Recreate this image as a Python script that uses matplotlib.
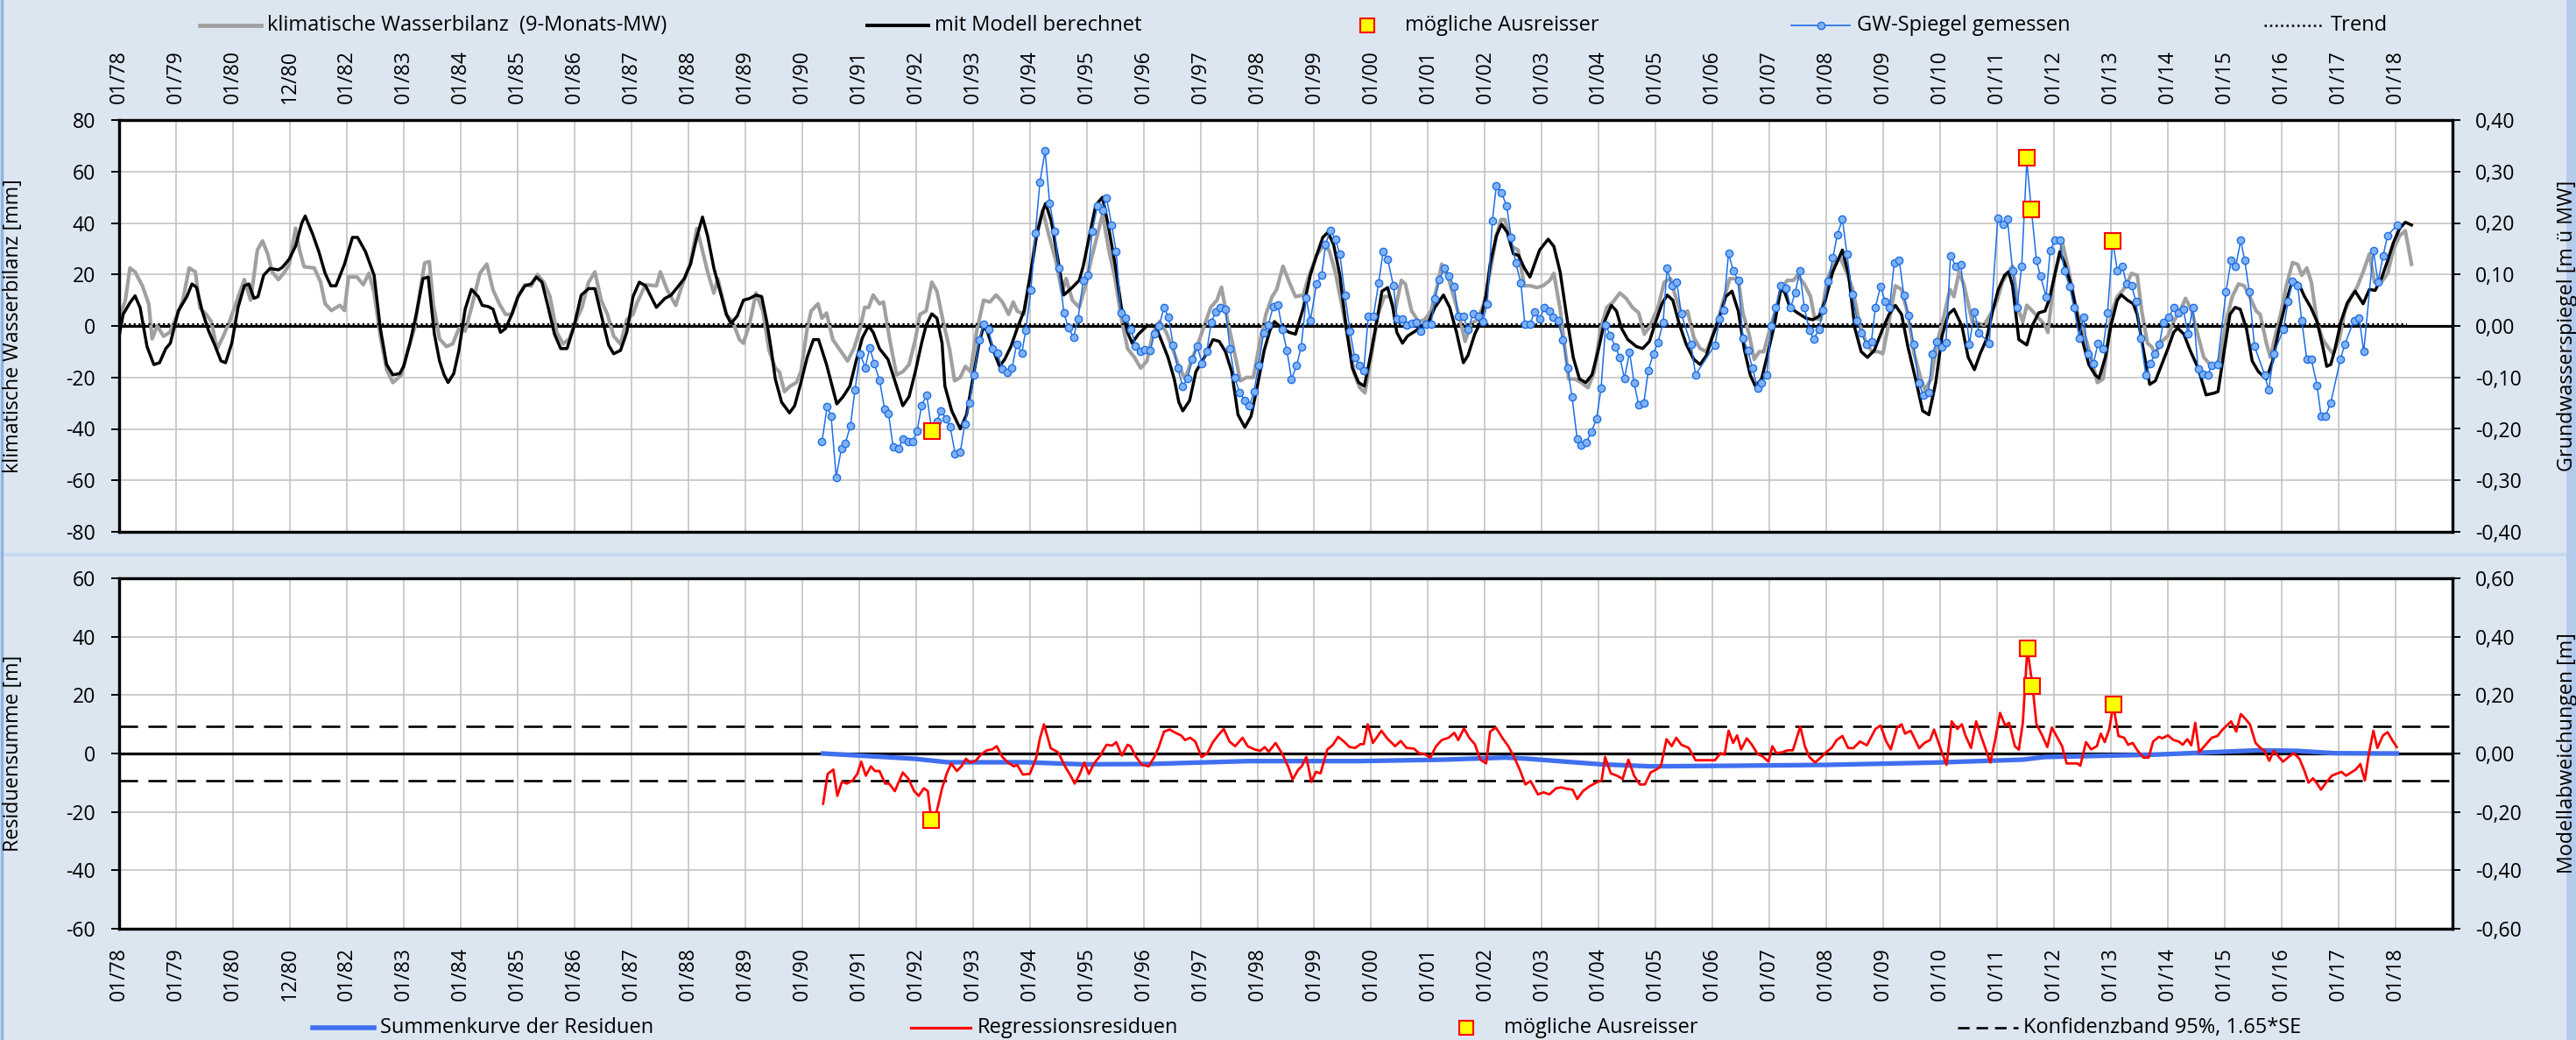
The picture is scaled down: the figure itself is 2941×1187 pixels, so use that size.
import matplotlib
matplotlib.use('Agg')
import matplotlib.pyplot as plt
from matplotlib.lines import Line2D
from matplotlib.patches import Rectangle
from matplotlib.ticker import FuncFormatter, MultipleLocator

plt.rcParams['font.family'] = ['Open Sans', 'DejaVu Sans']
plt.rcParams['axes.unicode_minus'] = False

# --- x axis ticks -------------------------------------------------------
tick_years = list(range(1978, 2019))
tick_labels = ['01/78', '01/79', '01/80', '12/80', '01/82', '01/83', '01/84', '01/85',
               '01/86', '01/87', '01/88', '01/89', '01/90', '01/91', '01/92', '01/93',
               '01/94', '01/95', '01/96', '01/97', '01/98', '01/99', '01/00', '01/01',
               '01/02', '01/03', '01/04', '01/05', '01/06', '01/07', '01/08', '01/09',
               '01/10', '01/11', '01/12', '01/13', '01/14', '01/15', '01/16', '01/17',
               '01/18']

# --- klimatische Wasserbilanz (9-Monats-MW) [mm] -------------------------
kwb_t = [1978.00, 1978.11, 1978.19, 1978.28, 1978.41, 1978.52, 1978.58, 1978.67, 1978.78, 1978.89,
         1978.97, 1979.12, 1979.23, 1979.34, 1979.42, 1979.53, 1979.62, 1979.72, 1979.83, 1979.94,
         1980.05, 1980.20, 1980.31, 1980.43, 1980.52, 1980.61, 1980.69, 1980.80, 1980.91, 1980.99,
         1981.10, 1981.17, 1981.25, 1981.43, 1981.54, 1981.62, 1981.73, 1981.88, 1981.96, 1982.03,
         1982.18, 1982.29, 1982.39, 1982.48, 1982.59, 1982.70, 1982.81, 1982.96, 1983.07, 1983.19,
         1983.30, 1983.37, 1983.45, 1983.52, 1983.63, 1983.75, 1983.86, 1983.97, 1984.08, 1984.19,
         1984.34, 1984.46, 1984.57, 1984.68, 1984.79, 1984.90, 1985.01, 1985.13, 1985.24, 1985.35,
         1985.46, 1985.57, 1985.69, 1985.80, 1985.91, 1986.02, 1986.13, 1986.25, 1986.36, 1986.47,
         1986.58, 1986.69, 1986.81, 1986.92, 1987.03, 1987.10, 1987.25, 1987.44, 1987.51, 1987.63,
         1987.78, 1987.89, 1988.04, 1988.15, 1988.22, 1988.34, 1988.45, 1988.52, 1988.67, 1988.78,
         1988.90, 1988.97, 1989.08, 1989.19, 1989.31, 1989.42, 1989.53, 1989.60, 1989.69, 1989.79,
         1989.90, 1989.98, 1990.09, 1990.16, 1990.28, 1990.35, 1990.43, 1990.54, 1990.65, 1990.80,
         1990.91, 1991.02, 1991.10, 1991.17, 1991.25, 1991.36, 1991.43, 1991.54, 1991.66, 1991.77,
         1991.88, 1991.99, 1992.07, 1992.18, 1992.28, 1992.37, 1992.48, 1992.59, 1992.68, 1992.78,
         1992.87, 1992.96, 1993.07, 1993.19, 1993.30, 1993.41, 1993.52, 1993.63, 1993.71, 1993.78,
         1993.90, 1994.01, 1994.12, 1994.23, 1994.34, 1994.46, 1994.57, 1994.64, 1994.75, 1994.87,
         1994.98, 1995.09, 1995.20, 1995.28, 1995.39, 1995.50, 1995.61, 1995.72, 1995.84, 1995.95,
         1996.06, 1996.17, 1996.28, 1996.40, 1996.51, 1996.62, 1996.73, 1996.84, 1996.96, 1997.07,
         1997.18, 1997.29, 1997.37, 1997.48, 1997.59, 1997.70, 1997.81, 1997.93, 1998.04, 1998.15,
         1998.26, 1998.34, 1998.45, 1998.56, 1998.67, 1998.81, 1998.89, 1999.04, 1999.15, 1999.26,
         1999.37, 1999.48, 1999.60, 1999.71, 1999.80, 1999.89, 2000.01, 2000.12, 2000.23, 2000.33,
         2000.42, 2000.53, 2000.60, 2000.71, 2000.83, 2000.94, 2001.05, 2001.16, 2001.24, 2001.35,
         2001.46, 2001.57, 2001.65, 2001.76, 2001.87, 2001.98, 2002.09, 2002.20, 2002.28, 2002.35,
         2002.47, 2002.58, 2002.69, 2002.80, 2002.91, 2003.02, 2003.14, 2003.21, 2003.32, 2003.47,
         2003.58, 2003.69, 2003.81, 2003.92, 2004.03, 2004.14, 2004.25, 2004.37, 2004.48, 2004.59,
         2004.70, 2004.80, 2004.89, 2005.04, 2005.15, 2005.26, 2005.33, 2005.45, 2005.56, 2005.67,
         2005.78, 2005.89, 2006.00, 2006.12, 2006.19, 2006.30, 2006.45, 2006.53, 2006.64, 2006.73,
         2006.82, 2006.90, 2007.01, 2007.12, 2007.20, 2007.31, 2007.42, 2007.49, 2007.61, 2007.72,
         2007.79, 2007.90, 2008.01, 2008.11, 2008.24, 2008.35, 2008.46, 2008.58, 2008.69, 2008.80,
         2008.91, 2008.99, 2009.10, 2009.21, 2009.32, 2009.43, 2009.54, 2009.66, 2009.73, 2009.84,
         2009.95, 2010.07, 2010.17, 2010.24, 2010.33, 2010.42, 2010.56, 2010.67, 2010.77, 2010.88,
         2010.99, 2011.09, 2011.20, 2011.27, 2011.38, 2011.45, 2011.52, 2011.62, 2011.73, 2011.84,
         2011.89, 2012.01, 2012.15, 2012.26, 2012.37, 2012.47, 2012.58, 2012.65, 2012.76, 2012.86,
         2012.93, 2013.00, 2013.11, 2013.22, 2013.29, 2013.36, 2013.46, 2013.54, 2013.64, 2013.71,
         2013.78, 2013.89, 2014.00, 2014.10, 2014.21, 2014.31, 2014.42, 2014.53, 2014.63, 2014.74,
         2014.85, 2014.92, 2015.02, 2015.13, 2015.24, 2015.34, 2015.45, 2015.55, 2015.62, 2015.73,
         2015.80, 2015.87, 2015.98, 2016.08, 2016.19, 2016.28, 2016.35, 2016.44, 2016.52, 2016.62,
         2016.72, 2016.83, 2016.90, 2017.01, 2017.11, 2017.22, 2017.32, 2017.43, 2017.54, 2017.63,
         2017.75, 2017.86, 2017.96, 2018.07, 2018.17, 2018.28]
kwb_v = [3, 10, 22.5, 21, 15.5, 8.6, -5, 0, -4, -2.5,
         1.7, 10, 22.5, 21, 7, 4.5, 1.7, -9, -4, 1.7,
         8.6, 18, 10, 29.5, 33, 28, 21, 18, 21, 24,
         38, 29.5, 23, 22.5, 17, 8.6, 6, 8, 6, 19,
         19, 16, 20.5, 13, -4, -17, -22, -19, -9.5, -1,
         15.5, 24.5, 25, 8.6, -5, -8, -7, -1, -2, 7,
         20.5, 24, 14, 8.6, 4.5, 4.5, 11.5, 16, 15.5, 20,
         17, 11.5, -2.5, -7, -5, 1.7, 7, 17, 21, 10,
         4.5, -4, -7, 2.4, 4.5, 9, 16, 15.6, 21, 14,
         8, 15.6, 24.6, 37.8, 32, 21, 12.8, 18.4, 4.5, 1.7,
         -5.3, -6.7, 1, 12.8, 5.8, -9.5, -16.4, -17.8, -25.5, -23.4,
         -22, -17.8, -1, 5.8, 8.6, 3, 5, -5.3, -8.8, -13.6,
         -8.8, -1, 7.2, 7.2, 12, 8.6, 9.3, -5.3, -19, -17.8,
         -15, -5.3, 4.5, 5.8, 17, 13.5, 1.7, -8.8, -21.3, -20,
         -15.7, -17.8, -1.8, 10, 9.3, 12, 9.3, 4.5, 9.3, 5.8,
         4.5, 19, 36.4, 44.8, 35, 25.3, 12.8, 18.4, 10, 7.2,
         15.6, 26.7, 36.4, 43.4, 29.5, 18.4, 3, -8.8, -12.2, -16.4,
         -13.6, -2.5, 1.7, -2.5, -8.8, -15.7, -20.6, -13.6, -6.7, 0.3,
         7.2, 10, 15, 1.7, -9.5, -21.3, -20, -20, -6.7, 4.5,
         11.4, 14.2, 23.2, 17, 11.4, 12, 18.4, 27.4, 30.9, 29.5,
         21, 8.6, -5.3, -19, -24, -26, -10.8, 4.5, 11.4, 11.4,
         5.8, 17.7, 16.3, 5.8, 1.7, 2.4, 5.8, 15.6, 24, 19,
         10.7, 1.7, -6, 1, 2.4, 8.6, 21, 35, 41.3, 41.3,
         30.9, 29.5, 15.6, 15.6, 14.9, 15.6, 17.7, 20.4, 6.5, -20.6,
         -20.6, -22, -24, -17.8, -1, 7.2, 9.3, 12.8, 10.7, 7.2,
         5.1, -3.2, -0.4, 7.2, 17, 18.4, 12.8, 4.5, 5.8, -4.6,
         -8.8, -10, -3.9, 4.5, 10, 18.4, 18.4, 5.1, -3.2, -13,
         -10, -10, -1, 7.2, 14.2, 17.7, 17.7, 19.7, 16.3, 11.4,
         3, 2.4, 17.7, 23.2, 26.7, 21, 14.2, 1, -6, -10,
         -10, -10.8, 1.7, 15.6, 14.2, 4.5, -10.8, -20.6, -24.8, -20.6,
         -6, 4.5, 14.2, 11.4, 21, 15.6, 1.7, 1, 0.3, 4.5,
         9.3, 17, 21, 23.2, 5.8, 1.7, 8, 5.8, 3, 0.3,
         -2.5, 20, 32, 21, 8.6, 0.3, -6.7, -12.2, -22, -20.6,
         -9.5, 4.5, 11.4, 14.2, 17, 20.4, 19.7, 5.8, -6.7, -8,
         -10.8, -6, -3.9, 1.7, 5.8, 10.7, 5.8, -3.9, -12.2, -15,
         -15, -12.2, 1.7, 11.4, 16.3, 15.6, 10.7, 5.8, 4.5, -6.7,
         -12.2, -5.3, 4.5, 15.6, 24.6, 23.9, 19.7, 22.5, 17, 1.7,
         -5.3, -8.8, -10.8, -5.3, 5.8, 11.4, 14.9, 21, 28, 17,
         17, 20.4, 29.5, 35, 37, 24]

# --- mit Modell berechnet [mm] -------------------------------------------
mod_t = [1978.00, 1978.07, 1978.19, 1978.28, 1978.37, 1978.49, 1978.61, 1978.71, 1978.82, 1978.90,
         1979.04, 1979.19, 1979.28, 1979.36, 1979.46, 1979.57, 1979.68, 1979.79, 1979.87, 1979.98,
         1980.09, 1980.20, 1980.28, 1980.37, 1980.44, 1980.54, 1980.65, 1980.80, 1980.87, 1980.99,
         1981.10, 1981.21, 1981.27, 1981.40, 1981.51, 1981.62, 1981.72, 1981.81, 1981.96, 1982.10,
         1982.19, 1982.33, 1982.48, 1982.59, 1982.70, 1982.81, 1982.93, 1983.00, 1983.11, 1983.22,
         1983.34, 1983.43, 1983.54, 1983.63, 1983.71, 1983.78, 1983.88, 1983.97, 1984.08, 1984.19,
         1984.31, 1984.38, 1984.49, 1984.57, 1984.70, 1984.79, 1984.90, 1985.01, 1985.13, 1985.24,
         1985.33, 1985.43, 1985.54, 1985.65, 1985.76, 1985.87, 1985.99, 1986.12, 1986.25, 1986.36,
         1986.50, 1986.60, 1986.69, 1986.81, 1986.92, 1987.03, 1987.14, 1987.25, 1987.44, 1987.59,
         1987.70, 1987.81, 1987.93, 1988.04, 1988.15, 1988.25, 1988.34, 1988.45, 1988.56, 1988.67,
         1988.75, 1988.86, 1988.97, 1989.08, 1989.19, 1989.29, 1989.38, 1989.46, 1989.53, 1989.64,
         1989.78, 1989.87, 1989.98, 1990.09, 1990.20, 1990.29, 1990.43, 1990.61, 1990.72, 1990.84,
         1990.95, 1991.06, 1991.17, 1991.25, 1991.36, 1991.51, 1991.62, 1991.77, 1991.88, 1991.99,
         1992.10, 1992.18, 1992.28, 1992.37, 1992.46, 1992.51, 1992.63, 1992.78, 1992.89, 1993.00,
         1993.11, 1993.19, 1993.26, 1993.37, 1993.47, 1993.56, 1993.67, 1993.78, 1993.90, 1994.01,
         1994.12, 1994.23, 1994.28, 1994.38, 1994.49, 1994.60, 1994.75, 1994.87, 1994.94, 1995.05,
         1995.16, 1995.28, 1995.39, 1995.50, 1995.61, 1995.72, 1995.80, 1995.91, 1996.06, 1996.21,
         1996.32, 1996.43, 1996.54, 1996.62, 1996.69, 1996.81, 1996.92, 1997.07, 1997.22, 1997.33,
         1997.44, 1997.55, 1997.66, 1997.78, 1997.89, 1998.00, 1998.12, 1998.22, 1998.30, 1998.40,
         1998.56, 1998.67, 1998.81, 1998.93, 1999.04, 1999.15, 1999.24, 1999.34, 1999.45, 1999.56,
         1999.67, 1999.78, 1999.88, 1999.97, 2000.08, 2000.19, 2000.29, 2000.38, 2000.45, 2000.55,
         2000.64, 2000.79, 2000.90, 2001.01, 2001.12, 2001.27, 2001.38, 2001.50, 2001.62, 2001.70,
         2001.82, 2001.91, 2002.02, 2002.09, 2002.20, 2002.29, 2002.39, 2002.50, 2002.59, 2002.69,
         2002.79, 2002.87, 2002.96, 2003.11, 2003.21, 2003.32, 2003.43, 2003.55, 2003.66, 2003.77,
         2003.88, 2003.99, 2004.10, 2004.22, 2004.31, 2004.40, 2004.51, 2004.66, 2004.77, 2004.89,
         2005.00, 2005.11, 2005.20, 2005.30, 2005.41, 2005.54, 2005.67, 2005.78, 2005.89, 2006.00,
         2006.12, 2006.23, 2006.34, 2006.45, 2006.56, 2006.66, 2006.75, 2006.86, 2006.96, 2007.09,
         2007.20, 2007.27, 2007.36, 2007.49, 2007.64, 2007.76, 2007.87, 2007.98, 2008.11, 2008.28,
         2008.39, 2008.50, 2008.61, 2008.72, 2008.84, 2008.99, 2009.10, 2009.21, 2009.32, 2009.43,
         2009.58, 2009.69, 2009.80, 2009.92, 2010.03, 2010.14, 2010.24, 2010.38, 2010.49, 2010.60,
         2010.70, 2010.81, 2010.92, 2011.02, 2011.13, 2011.20, 2011.27, 2011.38, 2011.52, 2011.62,
         2011.73, 2011.84, 2011.92, 2012.01, 2012.10, 2012.19, 2012.30, 2012.40, 2012.51, 2012.61,
         2012.72, 2012.79, 2012.90, 2013.00, 2013.11, 2013.18, 2013.29, 2013.39, 2013.46, 2013.57,
         2013.68, 2013.78, 2013.89, 2014.00, 2014.10, 2014.17, 2014.28, 2014.39, 2014.53, 2014.67,
         2014.81, 2014.88, 2014.99, 2015.09, 2015.18, 2015.27, 2015.38, 2015.48, 2015.59, 2015.73,
         2015.84, 2015.94, 2016.05, 2016.16, 2016.23, 2016.30, 2016.40, 2016.51, 2016.62, 2016.72,
         2016.79, 2016.86, 2016.93, 2017.04, 2017.15, 2017.29, 2017.43, 2017.54, 2017.64, 2017.75,
         2017.86, 2017.96, 2018.07, 2018.17, 2018.28]
mod_v = [-4, 4.5, 9, 11.7, 7, -8, -15, -14.3, -8.8, -6.7,
         5.8, 11.4, 16.3, 15, 5.8, -1.8, -7.4, -13.6, -14.3, -6.7,
         7.2, 15.6, 16.3, 10.7, 11.4, 19.7, 22.3, 21.8, 22.8, 26,
         31, 40, 42.7, 35.7, 28.8, 20.4, 15.6, 15.6, 24, 34.4,
         34.4, 28.8, 19.7, -1, -15, -19, -18.5, -15.7, -6.7, 4.5,
         18.4, 19, -3.2, -13.6, -19, -22, -18.5, -9.5, 6.5, 14.2,
         11.4, 8, 7.5, 6.5, -2.5, -1, 4.5, 11.4, 15.6, 16.3,
         19, 17, 7.2, -3.2, -8.8, -8.8, -0.4, 12, 14.5, 14.5,
         1.7, -7.4, -10.8, -9.5, -2.5, 11.4, 17, 15.6, 7.2, 10.7,
         12, 15, 18.4, 24, 34.4, 42.3, 35, 22.5, 13.5, 4.5,
         1, 3.8, 10, 10.7, 12, 11.4, 1.7, -9.5, -20.6, -29.6,
         -33.8, -31, -22, -12.2, -5.3, -5.3, -15, -30.3, -27.5, -23.4,
         -13.6, -4.6, 0, -2.5, -8.8, -13, -20.6, -31, -27.5, -17.8,
         -6.7, 0.3, 4.7, 3, -6.7, -23.4, -33, -40, -34.5, -20.6,
         -6.7, 0, -2.5, -10, -15.7, -13, -8, -1, 5.8, 19.7,
         35, 44.8, 47.6, 40.6, 26.7, 12, 15, 17.7, 23.2, 35,
         46.9, 50, 37.8, 24, 7.2, -2.5, -6.7, -3.2, 0, 0,
         -6, -12.2, -20.6, -29.6, -33, -29, -17.8, -12.2, -5.3, -6,
         -10, -17.8, -34.5, -39.4, -35, -23.4, -9.5, -1.8, 1.7, -0.4,
         -2.5, -3.2, 7.2, 19.7, 27.4, 34.4, 36.4, 31.6, 19.7, -0.4,
         -16.4, -22, -23.4, -13.6, -0.4, 13.5, 14.9, 7.2, -2.5, -6.7,
         -3.9, -1.8, 0.3, 1.7, 7.2, 12, 7.2, -2.5, -14.3, -11.5,
         -3.2, 1, 12, 24, 35, 39.5, 36.4, 28, 27.4, 22.5,
         19, 24, 29.5, 33.7, 30.9, 21, 4.5, -12.2, -20.6, -22,
         -19, -9.5, 1.7, 8, 5.8, -1, -5.3, -8, -8.8, -6,
         1.7, 8.6, 12, 10, 1, -7.4, -13, -15, -11.5, -3.9,
         3, 11.4, 13.5, 5.8, -9.5, -19, -23.4, -20.6, -11.5, 1,
         14.9, 12.8, 7.2, 5.1, 3, 2.4, 3.8, 10, 21, 29.5,
         19.7, -1, -10, -12.2, -9.5, -1, 4.5, 8, 4.5, -8,
         -22, -33, -34.5, -22, -3.9, 4.5, 6.5, 0, -12.2, -17,
         -10.8, -5.3, 5.8, 14.2, 19.7, 21, 15.6, -5.3, -7.4, 0.3,
         5.1, 5.8, 10.7, 19.7, 28.8, 24, 15.6, 4.5, -6.7, -15,
         -19, -20.3, -12.2, 0.3, 10, 12.1, 10, 8.6, 4.5, -9.5,
         -22.7, -21.3, -15, -8.8, -2.5, -0.8, -3.2, -9.5, -16.4, -26.8,
         -26.1, -25.5, -9.5, 4.5, 7.2, 6.5, -1.1, -13.6, -17.8, -20.6,
         -13.6, -2.5, 7.2, 15.6, 17.2, 16.3, 11.4, 7.2, 1.7, -8,
         -15.7, -15, -9.5, 1.7, 8.9, 13.5, 8.6, 14.2, 13.8, 18.4,
         25.3, 32.3, 37.8, 40.3, 39.2]

# --- GW-Spiegel gemessen [m u. MW] --------------------------------------
gw_t = [1990.35, 1990.44, 1990.51, 1990.60, 1990.69, 1990.76, 1990.85, 1990.93, 1991.02, 1991.11,
        1991.19, 1991.27, 1991.36, 1991.45, 1991.52, 1991.60, 1991.69, 1991.77, 1991.86, 1991.94,
        1992.02, 1992.10, 1992.19, 1992.28, 1992.37, 1992.44, 1992.53, 1992.60, 1992.69, 1992.78,
        1992.86, 1992.94, 1993.02, 1993.11, 1993.19, 1993.28, 1993.35, 1993.43, 1993.52, 1993.60,
        1993.69, 1993.77, 1993.86, 1993.93, 1994.02, 1994.10, 1994.18, 1994.27, 1994.35, 1994.44,
        1994.51, 1994.60, 1994.68, 1994.77, 1994.85, 1994.94, 1995.02, 1995.10, 1995.19, 1995.28,
        1995.35, 1995.44, 1995.52, 1995.60, 1995.69, 1995.78, 1995.86, 1995.95, 1996.02, 1996.12,
        1996.19, 1996.27, 1996.36, 1996.44, 1996.52, 1996.60, 1996.69, 1996.77, 1996.86, 1996.94,
        1997.03, 1997.11, 1997.19, 1997.27, 1997.35, 1997.44, 1997.52, 1997.60, 1997.69, 1997.78,
        1997.86, 1997.94, 1998.02, 1998.11, 1998.19, 1998.28, 1998.36, 1998.44, 1998.52, 1998.60,
        1998.69, 1998.77, 1998.86, 1998.93, 1999.04, 1999.13, 1999.20, 1999.28, 1999.37, 1999.45,
        1999.54, 1999.63, 1999.71, 1999.80, 1999.87, 1999.95, 2000.04, 2000.13, 2000.21, 2000.29,
        2000.39, 2000.46, 2000.54, 2000.62, 2000.71, 2000.80, 2000.87, 2000.96, 2001.05, 2001.12,
        2001.20, 2001.29, 2001.37, 2001.46, 2001.53, 2001.62, 2001.70, 2001.79, 2001.88, 2001.96,
        2002.04, 2002.13, 2002.20, 2002.29, 2002.38, 2002.46, 2002.54, 2002.63, 2002.70, 2002.79,
        2002.87, 2002.96, 2003.04, 2003.13, 2003.20, 2003.28, 2003.37, 2003.45, 2003.53, 2003.62,
        2003.69, 2003.78, 2003.87, 2003.96, 2004.04, 2004.12, 2004.20, 2004.29, 2004.37, 2004.45,
        2004.54, 2004.62, 2004.70, 2004.79, 2004.87, 2004.96, 2005.04, 2005.13, 2005.20, 2005.28,
        2005.37, 2005.45, 2005.62, 2005.70, 2006.04, 2006.12, 2006.19, 2006.28, 2006.36, 2006.45,
        2006.53, 2006.62, 2006.70, 2006.79, 2006.86, 2006.95, 2007.03, 2007.11, 2007.20, 2007.29,
        2007.37, 2007.45, 2007.53, 2007.61, 2007.70, 2007.78, 2007.87, 2007.94, 2008.03, 2008.11,
        2008.19, 2008.28, 2008.36, 2008.45, 2008.54, 2008.61, 2008.70, 2008.79, 2008.86, 2008.95,
        2009.03, 2009.11, 2009.19, 2009.28, 2009.36, 2009.44, 2009.53, 2009.62, 2009.70, 2009.79,
        2009.86, 2009.94, 2010.03, 2010.10, 2010.18, 2010.27, 2010.36, 2010.51, 2010.60, 2010.68,
        2010.86, 2011.01, 2011.10, 2011.18, 2011.27, 2011.35, 2011.43, 2011.52, 2011.60, 2011.69,
        2011.76, 2011.86, 2011.93, 2012.01, 2012.10, 2012.18, 2012.27, 2012.35, 2012.44, 2012.52,
        2012.59, 2012.69, 2012.77, 2012.86, 2012.94, 2013.03, 2013.11, 2013.20, 2013.27, 2013.36,
        2013.44, 2013.52, 2013.61, 2013.69, 2013.77, 2013.85, 2013.92, 2014.02, 2014.10, 2014.19,
        2014.27, 2014.35, 2014.44, 2014.53, 2014.61, 2014.70, 2014.77, 2014.87, 2015.02, 2015.11,
        2015.19, 2015.28, 2015.35, 2015.43, 2015.52, 2015.70, 2015.77, 2015.86, 2016.03, 2016.11,
        2016.19, 2016.28, 2016.35, 2016.44, 2016.52, 2016.62, 2016.69, 2016.77, 2016.86, 2017.03,
        2017.11, 2017.27, 2017.36, 2017.44, 2017.61, 2017.69, 2017.78, 2017.86, 2018.03]
gw_v = [-0.225, -0.157, -0.175, -0.294, -0.239, -0.228, -0.194, -0.124, -0.054, -0.081,
        -0.042, -0.074, -0.105, -0.161, -0.171, -0.235, -0.239, -0.220, -0.225, -0.225,
        -0.205, -0.155, -0.134, -0.205, -0.185, -0.165, -0.180, -0.195, -0.248, -0.245,
        -0.190, -0.150, -0.095, -0.028, 0.003, -0.006, -0.044, -0.052, -0.084, -0.091,
        -0.082, -0.036, -0.053, -0.009, 0.069, 0.181, 0.280, 0.340, 0.239, 0.184,
        0.112, 0.026, -0.004, -0.022, 0.014, 0.089, 0.099, 0.184, 0.233, 0.224,
        0.249, 0.196, 0.144, 0.026, 0.016, -0.006, -0.039, -0.050, -0.046, -0.048,
        -0.015, 0.000, 0.035, 0.017, -0.037, -0.082, -0.118, -0.102, -0.065, -0.039,
        -0.073, -0.050, 0.007, 0.028, 0.035, 0.032, -0.045, -0.100, -0.130, -0.144,
        -0.155, -0.128, -0.077, -0.014, 0.002, 0.038, 0.041, -0.007, -0.048, -0.103,
        -0.077, -0.041, 0.054, 0.010, 0.082, 0.099, 0.159, 0.186, 0.169, 0.139,
        0.059, -0.011, -0.061, -0.077, -0.086, 0.019, 0.019, 0.083, 0.144, 0.130,
        0.078, 0.013, 0.013, 0.002, 0.005, 0.007, -0.011, 0.003, 0.003, 0.052,
        0.091, 0.112, 0.097, 0.077, 0.018, 0.018, -0.006, 0.023, 0.018, 0.009,
        0.043, 0.205, 0.273, 0.259, 0.233, 0.172, 0.122, 0.084, 0.003, 0.003,
        0.027, 0.013, 0.035, 0.029, 0.017, 0.010, -0.028, -0.081, -0.138, -0.220,
        -0.232, -0.226, -0.206, -0.180, -0.121, 0.002, -0.018, -0.041, -0.061, -0.102,
        -0.051, -0.111, -0.153, -0.150, -0.086, -0.054, -0.032, 0.007, 0.112, 0.078,
        0.085, 0.023, -0.036, -0.095, -0.037, 0.013, 0.031, 0.142, 0.107, 0.089,
        -0.023, -0.048, -0.082, -0.121, -0.110, -0.095, 0.000, 0.036, 0.078, 0.073,
        0.036, 0.064, 0.107, 0.036, -0.009, -0.025, -0.006, 0.031, 0.086, 0.132,
        0.177, 0.207, 0.139, 0.061, 0.010, -0.013, -0.035, -0.030, 0.036, 0.077,
        0.047, 0.036, 0.122, 0.127, 0.059, 0.020, -0.035, -0.110, -0.134, -0.130,
        -0.054, -0.030, -0.041, -0.032, 0.137, 0.116, 0.119, -0.035, 0.027, -0.013,
        -0.034, 0.209, 0.198, 0.207, 0.108, 0.036, 0.116, 0.320, 0.226, 0.127,
        0.097, 0.057, 0.146, 0.166, 0.166, 0.107, 0.077, 0.036, -0.023, 0.017,
        -0.054, -0.074, -0.034, -0.044, 0.026, 0.165, 0.108, 0.116, 0.082, 0.078,
        0.047, -0.023, -0.095, -0.074, -0.054, -0.035, 0.007, 0.017, 0.036, 0.026,
        0.033, -0.015, 0.036, -0.084, -0.093, -0.095, -0.077, -0.075, 0.066, 0.127,
        0.116, 0.166, 0.127, 0.066, -0.039, -0.095, -0.125, -0.054, -0.006, 0.047,
        0.087, 0.078, 0.011, -0.065, -0.065, -0.115, -0.175, -0.175, -0.150, -0.065,
        -0.035, 0.011, 0.016, -0.050, 0.147, 0.085, 0.136, 0.176, 0.196]

# moegliche Ausreisser (GW) [m]
ausr_top_t = [1992.28, 2011.52, 2011.60, 2013.03]
ausr_top_v = [-0.205, 0.326, 0.226, 0.165]

# Trend [m]
trend_t = [1978.0, 2018.2]
trend_v = [0.0035, 0.0035]

# --- Regressionsresiduen [m] ---------------------------------------------
res_t = [1990.37, 1990.45, 1990.55, 1990.62, 1990.70, 1990.79, 1990.89, 1990.97, 1991.04, 1991.12,
         1991.21, 1991.28, 1991.36, 1991.46, 1991.53, 1991.63, 1991.77, 1991.87, 1991.97, 1992.05,
         1992.14, 1992.21, 1992.27, 1992.36, 1992.46, 1992.54, 1992.62, 1992.72, 1992.80, 1992.88,
         1992.95, 1993.05, 1993.15, 1993.25, 1993.34, 1993.42, 1993.52, 1993.62, 1993.72, 1993.78,
         1993.88, 1994.00, 1994.11, 1994.18, 1994.25, 1994.37, 1994.50, 1994.62, 1994.72, 1994.79,
         1994.88, 1994.96, 1995.04, 1995.13, 1995.23, 1995.35, 1995.45, 1995.52, 1995.62, 1995.72,
         1995.77, 1995.87, 1995.97, 1996.09, 1996.19, 1996.26, 1996.36, 1996.46, 1996.56, 1996.66,
         1996.73, 1996.82, 1996.91, 1997.02, 1997.12, 1997.22, 1997.31, 1997.41, 1997.51, 1997.61,
         1997.74, 1997.83, 1997.95, 1998.05, 1998.13, 1998.20, 1998.32, 1998.44, 1998.54, 1998.62,
         1998.72, 1998.78, 1998.86, 1998.95, 1999.03, 1999.11, 1999.23, 1999.32, 1999.42, 1999.52,
         1999.62, 1999.72, 1999.81, 1999.87, 1999.94, 2000.03, 2000.18, 2000.28, 2000.42, 2000.52,
         2000.62, 2000.75, 2000.84, 2000.94, 2001.04, 2001.14, 2001.24, 2001.36, 2001.46, 2001.53,
         2001.63, 2001.73, 2001.82, 2001.92, 2002.02, 2002.09, 2002.19, 2002.31, 2002.41, 2002.51,
         2002.61, 2002.71, 2002.80, 2002.93, 2003.03, 2003.13, 2003.25, 2003.34, 2003.44, 2003.54,
         2003.62, 2003.72, 2003.83, 2003.95, 2004.05, 2004.11, 2004.21, 2004.32, 2004.42, 2004.52,
         2004.62, 2004.72, 2004.81, 2004.91, 2005.01, 2005.09, 2005.19, 2005.28, 2005.36, 2005.45,
         2005.58, 2005.70, 2005.89, 2006.04, 2006.14, 2006.21, 2006.28, 2006.36, 2006.43, 2006.50,
         2006.60, 2006.69, 2006.79, 2006.88, 2006.98, 2007.05, 2007.12, 2007.22, 2007.32, 2007.41,
         2007.54, 2007.62, 2007.70, 2007.80, 2007.91, 2007.99, 2008.09, 2008.18, 2008.28, 2008.38,
         2008.47, 2008.59, 2008.71, 2008.86, 2008.95, 2009.05, 2009.13, 2009.24, 2009.32, 2009.38,
         2009.48, 2009.63, 2009.72, 2009.82, 2009.89, 2010.01, 2010.11, 2010.20, 2010.30, 2010.38,
         2010.44, 2010.54, 2010.63, 2010.73, 2010.88, 2010.97, 2011.05, 2011.14, 2011.21, 2011.31,
         2011.38, 2011.45, 2011.53, 2011.62, 2011.69, 2011.79, 2011.88, 2011.96, 2012.05, 2012.14,
         2012.22, 2012.32, 2012.41, 2012.46, 2012.56, 2012.65, 2012.75, 2012.82, 2012.89, 2012.97,
         2013.04, 2013.13, 2013.23, 2013.30, 2013.38, 2013.47, 2013.57, 2013.66, 2013.74, 2013.84,
         2013.90, 2014.00, 2014.10, 2014.19, 2014.26, 2014.34, 2014.41, 2014.48, 2014.55, 2014.64,
         2014.77, 2014.87, 2014.96, 2015.11, 2015.20, 2015.28, 2015.35, 2015.44, 2015.54, 2015.63,
         2015.70, 2015.78, 2015.86, 2015.95, 2016.02, 2016.12, 2016.21, 2016.31, 2016.40, 2016.47,
         2016.55, 2016.62, 2016.69, 2016.79, 2016.88, 2016.98, 2017.05, 2017.13, 2017.22, 2017.30,
         2017.38, 2017.46, 2017.53, 2017.61, 2017.68, 2017.78, 2017.86, 2017.94, 2018.02]
res_v = [-0.172, -0.070, -0.055, -0.145, -0.097, -0.103, -0.092, -0.070, -0.028, -0.076,
         -0.044, -0.060, -0.060, -0.103, -0.103, -0.129, -0.065, -0.087, -0.129, -0.145,
         -0.119, -0.129, -0.227, -0.203, -0.119, -0.070, -0.034, -0.060, -0.044, -0.018,
         -0.031, -0.025, -0.002, 0.011, 0.014, 0.025, -0.012, -0.031, -0.044, -0.039,
         -0.072, -0.070, -0.018, 0.052, 0.100, 0.018, 0.004, -0.044, -0.076, -0.103,
         -0.070, -0.031, -0.070, -0.034, -0.010, 0.030, 0.027, 0.039, -0.007, 0.030,
         0.025, -0.012, -0.038, -0.044, -0.012, 0.018, 0.075, 0.082, 0.071, 0.062,
         0.046, 0.054, 0.041, -0.012, 0.001, 0.039, 0.062, 0.084, 0.041, 0.025,
         0.054, 0.025, 0.014, 0.009, 0.022, 0.006, 0.036, -0.002, -0.044, -0.089,
         -0.055, -0.044, -0.012, -0.097, -0.063, -0.068, 0.014, 0.028, 0.057, 0.041,
         0.022, 0.019, 0.032, 0.032, 0.100, 0.036, 0.078, 0.052, 0.025, 0.043,
         0.019, 0.017, 0.001, -0.002, -0.014, 0.025, 0.046, 0.054, 0.071, 0.046,
         0.086, 0.052, 0.032, -0.021, -0.034, 0.075, 0.089, 0.052, 0.025, -0.012,
         -0.055, -0.106, -0.094, -0.140, -0.133, -0.140, -0.119, -0.116, -0.121, -0.124,
         -0.156, -0.129, -0.113, -0.100, -0.092, -0.012, -0.068, -0.076, -0.087, -0.021,
         -0.076, -0.106, -0.106, -0.065, -0.055, -0.044, 0.049, 0.025, 0.054, 0.030,
         0.019, -0.023, -0.023, -0.023, 0.001, -0.004, 0.078, 0.036, 0.062, 0.014,
         0.052, 0.030, -0.002, -0.010, -0.028, 0.025, 0.001, 0.004, 0.011, 0.011,
         0.092, 0.025, -0.012, -0.031, -0.012, 0.004, 0.019, 0.046, 0.060, 0.019,
         0.018, 0.041, 0.028, 0.084, 0.096, 0.041, 0.014, 0.089, 0.100, 0.068,
         0.078, 0.018, 0.036, 0.046, 0.082, 0.014, -0.039, 0.110, 0.084, 0.100,
         0.062, 0.019, 0.110, 0.052, -0.031, 0.052, 0.139, 0.096, 0.105, 0.025,
         0.013, 0.105, 0.360, 0.232, 0.100, 0.062, 0.022, 0.089, 0.057, 0.025,
         -0.034, -0.034, -0.034, -0.042, 0.039, 0.014, 0.025, 0.068, 0.039, 0.084,
         0.167, 0.060, 0.054, 0.030, 0.036, 0.009, -0.014, -0.014, 0.041, 0.057,
         0.052, 0.062, 0.046, 0.041, 0.030, 0.049, 0.028, 0.105, 0.004, 0.025,
         0.054, 0.060, 0.082, 0.110, 0.075, 0.135, 0.121, 0.100, 0.036, 0.018,
         0.009, -0.025, 0.009, -0.012, -0.028, -0.012, 0.001, -0.018, -0.060, -0.100,
         -0.085, -0.103, -0.124, -0.097, -0.076, -0.068, -0.063, -0.076, -0.065, -0.055,
         -0.036, -0.092, -0.002, 0.078, 0.019, 0.062, 0.073, 0.046, 0.022]

ausr_bot_t = [1992.27, 2011.53, 2011.62, 2013.04]
ausr_bot_v = [-0.227, 0.360, 0.232, 0.167]

# Summenkurve der Residuen [m]
sum_t = [1990.37, 1991.00, 1991.97, 1992.56, 1993.93, 1994.91, 1996.09, 1997.85, 1999.81, 2001.28,
         2002.36, 2002.75, 2004.03, 2004.91, 2006.36, 2007.99, 2009.91, 2011.45, 2011.84, 2013.76,
         2015.59, 2016.26, 2016.93, 2018.02]
sum_v = [0, -0.7, -1.8, -3, -3, -3.7, -3.6, -2.6, -2.6, -2.1,
         -1.4, -1.8, -3.7, -4.4, -4.2, -3.9, -3.1, -2.1, -1.2, -0.4,
         1.1, 0.9, 0.1, 0]

konf_band = 0.092   # 1.65*SE [m]

# --- colours ---------------------------------------------------------------
bg = '#dce6f1'
c_kwb = '#a0a0a0'
c_gw = '#1b6fe6'
c_gw_face = '#82b1f3'
c_res = '#ff0000'
c_sum = '#4070f0'
c_grid = '#bfbfbf'

W, H = 2941, 1187
fig = plt.figure(figsize=(W / 100, H / 100), dpi=100, facecolor=bg)
renderer = fig.canvas.get_renderer()


def fx(px):
    return px / W


def fy(py):
    return 1 - py / H


def fit_size(text, target_px, base=20.0):
    # font size (pt) that makes `text` about target_px wide
    t = fig.text(0, 0, text, fontsize=base)
    w = t.get_window_extent(renderer).width
    t.remove()
    return base * target_px / w


def comma2(v, pos):
    if abs(v) < 1e-9:
        v = 0.0
    return f'{v:.2f}'.replace('.', ',')


tick_fs = fit_size('01/78', 61)
leg_fs = fit_size('klimatische Wasserbilanz  (9-Monats-MW)', 457)
lab_fs = fit_size('klimatische Wasserbilanz [mm]', 335)

ax1 = fig.add_axes([fx(136), fy(607), (2800 - 136) / W, 470 / H])
ax3 = fig.add_axes([fx(136), fy(1060), (2800 - 136) / W, 400 / H])

for ax in (ax1, ax3):
    ax.set_xlim(1978.0, 2019.0)
    ax.set_xticks(tick_years)
    ax.set_xticklabels(tick_labels)
    ax.set_facecolor('white')
    ax.grid(True, color=c_grid, lw=1.1)
    ax.set_axisbelow(True)
    ax.tick_params(axis='x', length=0, labelsize=tick_fs, labelrotation=90)
    ax.tick_params(axis='y', length=6.5, width=1.4, pad=13, labelsize=tick_fs, direction='out')
    for s in ax.spines.values():
        s.set_linewidth(2.3)
    ax.axhline(0, color='black', lw=2.3, zorder=1.5)

# ---- top panel --------------------------------------------------------------
ax1.xaxis.tick_top()
ax1.tick_params(axis='x', pad=13.5)
ax1.set_ylim(-80, 80)
ax1.yaxis.set_major_locator(MultipleLocator(20))
ax1.plot(kwb_t, kwb_v, color=c_kwb, lw=3.0, zorder=2)
ax1.plot(mod_t, mod_v, color='black', lw=2.5, zorder=3)
ax1.set_ylabel('klimatische Wasserbilanz [mm]', fontsize=lab_fs)
ax1.yaxis.set_label_coords(-0.041, 0.5)

ax2 = ax1.twinx()
ax2.set_ylim(-0.4, 0.4)
ax2.yaxis.set_major_locator(MultipleLocator(0.1))
ax2.yaxis.set_major_formatter(FuncFormatter(comma2))
ax2.tick_params(axis='y', length=6.5, width=1.4, pad=12, labelsize=tick_fs)
ax2.plot(trend_t, trend_v, color='black', lw=1.6, ls=(0, (1, 1.5)), zorder=2)
ax2.plot(gw_t, gw_v, color=c_gw, lw=1.1, marker='o', ms=6, mfc=c_gw_face, mec=c_gw, mew=1.0, zorder=3)
ax2.plot(ausr_top_t, ausr_top_v, ls='none', marker='s', ms=13.5, mfc='#ffff00', mec='#ff0000', mew=1.5, zorder=4)
ax2.set_ylabel('Grundwasserspiegel [m ü MW]', fontsize=lab_fs)
ax2.yaxis.set_label_coords(1.0447, 0.5)
for s in ax2.spines.values():
    s.set_linewidth(2.3)

# ---- bottom panel -----------------------------------------------------------
ax3.tick_params(axis='x', pad=15)
ax3.set_ylim(-60, 60)
ax3.yaxis.set_major_locator(MultipleLocator(20))
ax3.plot(sum_t, sum_v, color=c_sum, lw=3.8, zorder=2)
ax3.set_ylabel('Residuensumme [m]', fontsize=lab_fs)
ax3.yaxis.set_label_coords(-0.041, 0.5)

ax4 = ax3.twinx()
ax4.set_ylim(-0.6, 0.6)
ax4.yaxis.set_major_locator(MultipleLocator(0.2))
ax4.yaxis.set_major_formatter(FuncFormatter(comma2))
ax4.tick_params(axis='y', length=6.5, width=1.4, pad=12, labelsize=tick_fs)
for b in (konf_band, -konf_band):
    ax4.axhline(b, color='black', lw=1.9, ls=(0, (8, 4.5)), zorder=2)
ax4.plot(res_t, res_v, color=c_res, lw=2.0, zorder=3)
ax4.plot(ausr_bot_t, ausr_bot_v, ls='none', marker='s', ms=13.5, mfc='#ffff00', mec='#ff0000', mew=1.5, zorder=4)
ax4.set_ylabel('Modellabweichungen [m]', fontsize=lab_fs)
ax4.yaxis.set_label_coords(1.0447, 0.5)
for s in ax4.spines.values():
    s.set_linewidth(2.3)


# ---- legends (drawn by hand to match positions) -----------------------------
def leg_line(x0, x1, y, tx, text, **kw):
    fig.add_artist(Line2D([fx(x0), fx(x1)], [fy(y), fy(y)], transform=fig.transFigure, **kw))
    fig.text(fx(tx), fy(y), text, fontsize=leg_fs, va='center', ha='left')


def leg_marker(xm, y, tx, text):
    fig.add_artist(Line2D([fx(xm)], [fy(y)], transform=fig.transFigure, ls='none', marker='s',
                          ms=12, mfc='#ffff00', mec='#ff0000', mew=1.5))
    fig.text(fx(tx), fy(y), text, fontsize=leg_fs, va='center', ha='left')


ly = 29
leg_line(228, 298, ly, 305, 'klimatische Wasserbilanz  (9-Monats-MW)', color=c_kwb, lw=3.4)
leg_line(990, 1060, ly, 1067, 'mit Modell berechnet', color='black', lw=2.8)
leg_marker(1561, ly, 1604, 'mögliche Ausreisser')
leg_line(2045, 2112, ly, 2120, 'GW-Spiegel gemessen', color=c_gw, lw=1.2)
fig.add_artist(Line2D([fx(2079)], [fy(ly)], transform=fig.transFigure, ls='none', marker='o',
                      ms=6, mfc=c_gw_face, mec=c_gw))
leg_line(2585, 2652, ly, 2661, 'Trend', color='black', lw=1.8, ls=(0, (1, 1.5)))

by = 1173
leg_line(357, 427, by, 434, 'Summenkurve der Residuen', color=c_sum, lw=4)
leg_line(1040, 1108, by, 1116, 'Regressionsresiduen', color=c_res, lw=2.3)
leg_marker(1674, by, 1717, 'mögliche Ausreisser')
leg_line(2235, 2304, by, 2310, 'Konfidenzband 95%, 1.65*SE', color='black', lw=1.9, ls=(0, (5, 3)))

# ---- chart area borders -----------------------------------------------------
fig.add_artist(Line2D([0, 1], [fy(633), fy(633)], transform=fig.transFigure, color='#c5d9f1', lw=3, zorder=-1))
fig.add_artist(Line2D([fx(1.5), fx(1.5)], [0, 1], transform=fig.transFigure, color='#8db3e2', lw=2.5, zorder=-1))
fig.add_artist(Rectangle((fx(2930), 0), fx(11), 1, transform=fig.transFigure, color='#b4cbeb', lw=0, zorder=-1))

fig.savefig('out.png', dpi=100, facecolor=bg)
